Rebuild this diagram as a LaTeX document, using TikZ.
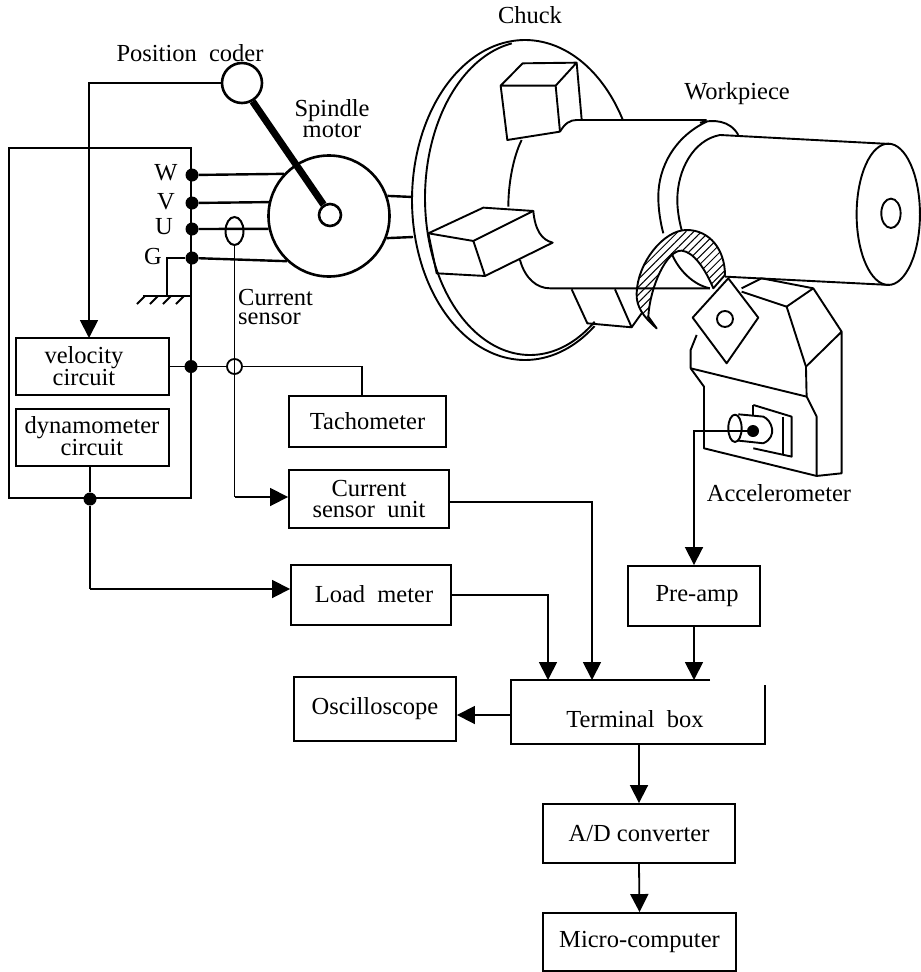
\documentclass[tikz,border=0pt]{standalone}
\usepackage{fontspec}
\setmainfont{Liberation Serif}
\usetikzlibrary{arrows.meta,shapes.geometric,patterns.meta}
\tikzset{
  lbl/.style={inner sep=0pt,align=center,font=\fontsize{24.5}{21}\selectfont},
  bx/.style={draw,line width=1.9pt,inner sep=0pt,align=center,font=\fontsize{24.5}{21}\selectfont},
  wire/.style={line width=1.8pt},
  power/.style={line width=2.4pt},
  arr/.style={line width=1.8pt,-{Triangle[width=18pt,length=18pt]}},
  jn/.style={circle,fill=black,inner sep=0pt,minimum size=13pt},
  art/.style={line width=1.9pt,line join=round},
  zone/.style={shift={(400,20)},x=.3333pt,y=-.3333pt}
}
\begin{document}
\begin{tikzpicture}[x=1pt,y=-1pt]
\useasboundingbox (0,0) rectangle (921,972);
% --- Chuck disc ---
\draw[art] plot[domain=30:308,samples=90,smooth] ({525+113*cos(\x)},{200-160*sin(\x)});
\draw[art] plot[domain=100:308,samples=70,smooth] ({530+105*cos(\x)},{198-157*sin(\x)});
\begin{scope}[zone,art]
  % body
  \draw (480,335) .. controls (495,310) and (510,300) .. (530,300) -- (920,300);
  \draw (365,360) .. controls (340,410) and (325,490) .. (325,560);
  \draw (360,720) .. controls (375,775) and (410,805) .. (450,805) -- (930,805);
  % collar
  \draw (920,305) .. controls (825,350) and (775,440) .. (775,530) .. controls (775,570) and (782,610) .. (790,640);
  \draw (960,345) .. controls (880,360) and (832,450) .. (832,540) .. controls (832,570) and (838,605) .. (845,630);
  \draw (815,700) .. controls (835,750) and (880,795) .. (930,805);
  \draw (900,308) .. controls (940,298) and (990,300) .. (1015,345);
  % workpiece
  \draw (960,345) -- (1470,372);
  \draw (975,770) -- (1470,795);
  \draw (1465,583) ellipse [x radius=95,y radius=212];
  \draw (1473,580) ellipse [x radius=29,y radius=44];
  % top jaw
  \draw (302,197) -- (368,130) -- (530,128) -- (467,197) -- cycle;
  \draw (302,197) -- (322,360) -- (480,335) -- (467,197);
  \draw (530,128) -- (545,298);
  % left jaw
  \draw (85,640) -- (250,563) -- (400,573) -- (220,663) -- cycle;
  \draw (85,640) -- (110,760) -- (255,768) -- (220,663);
  \draw (255,768) -- (458,668) .. controls (425,660) and (405,630) .. (400,573);
  % bottom jaw
  \draw (515,808) -- (562,910) -- (695,922) -- (645,808);
  \draw (695,922) -- (725,880);
  % chip
  \path[fill=white,draw=black,pattern={Lines[angle=45,distance=5.5pt,line width=1pt]}]
    (770,925) .. controls (730,890) and (708,860) .. (710,820)
    .. controls (712,730) and (790,630) .. (860,630)
    .. controls (930,630) and (975,690) .. (975,765)
    -- (940,805)
    .. controls (915,745) and (880,695) .. (845,692)
    .. controls (800,690) and (750,800) .. (745,890) -- cycle;
  % tool holder
  \draw (1025,805) -- (1085,775) -- (1240,805) -- (1325,935) -- (1325,1360) -- (1250,1368) -- (1250,1190) -- (1220,1130) -- (1218,1040) -- (1325,935);
  \draw (1240,805) -- (1160,860) -- (1218,1040);
  \draw (1025,815) -- (1160,860);
  \draw (890,945) -- (872,990) -- (872,1045) -- (1220,1130);
  \draw (872,1045) -- (912,1100) -- (912,1285) -- (1250,1368);
  % insert
  \draw[fill=white] (985,775) -- (1075,893) -- (980,1030) -- (878,893) -- cycle;
  \draw (975,897) circle [x radius=24,y radius=24];
  % accelerometer
  \draw (1060,1155) -- (1175,1190) -- (1175,1310) -- (1060,1285);
  \draw (1060,1155) -- (1060,1185);
  \draw (1150,1190) -- (1150,1305);
  \draw (1015,1183) -- (1090,1190) .. controls (1115,1200) and (1135,1250) .. (1090,1270) -- (1015,1262);
  \draw (1005,1225) ellipse [x radius=20,y radius=41];
\end{scope}
% --- Motor and position coder ---
\node[draw,circle,line width=2.6pt,minimum size=121pt,inner sep=0pt] (motor) at (329,216) {};
\node[draw,circle,line width=2.6pt,minimum size=40pt,inner sep=0pt] (coder) at (242,83) {};
\node[draw,circle,line width=2.6pt,minimum size=22pt,inner sep=0pt] (rotor) at (330,215) {};
\draw[line width=7pt] (coder.-60) -- (rotor.122);
\coordinate (chuckA) at (413,197);
\coordinate (chuckB) at (413,237);
\draw[power] (motor.19) -- (chuckA);
\draw[power] (motor.-21) -- (chuckB);
% --- Boxes ---
\node[draw,line width=1.9pt,minimum width=182pt,minimum height=350pt,inner sep=0pt] (cabinet) at (100,323) {};
\node[bx,minimum width=153pt,minimum height=57pt] (vel) at (92.5,366.5) {};
\node[lbl] (veltext) at (84,366) {velocity\\circuit};
\node[bx,minimum width=153pt,minimum height=57pt] (dyn) at (92.5,437.5) {};
\node[lbl,font=\fontsize{24.5}{18}\selectfont] (dyntext) at (92,436) {dynamometer\\[-1pt]circuit};
\node[bx,minimum width=157pt,minimum height=51pt] (tacho) at (367.5,421.5) {Tachometer};
\node[bx,minimum width=160pt,minimum height=58pt] (csu) at (369,499) {Current\\sensor\ \ unit};
\node[bx,minimum width=160pt,minimum height=60pt] (load) at (371,595) {\raisebox{2.5pt}{\hspace{6pt}Load\ \ meter}};
\node[bx,minimum width=162pt,minimum height=64pt] (osc) at (375,709) {\raisebox{1pt}{Oscilloscope}};
\node[bx,minimum width=132pt,minimum height=60pt] (preamp) at (694,596) {\raisebox{1pt}{\hspace{6pt}Pre-amp}};
\node[bx,minimum width=192pt,minimum height=59pt] (adc) at (639,833.5) {A/D converter};
\node[bx,minimum width=193pt,minimum height=58pt] (micro) at (639.5,942) {Micro-computer};
\node[lbl] (term) at (635,719) {Terminal\ \ box};
% Terminal box: open corner at top right
\coordinate (termNW) at (511,680);
\coordinate (termNE) at (710,680);
\coordinate (termSW) at (511,744);
\coordinate (termSE) at (765,744);
\coordinate (termRT) at (765,685);
\draw[line width=2pt] (termNE) -- (termNW) -- (termSW) -- (termSE) -- (termRT);
% --- Labels ---
\node[lbl] (lchuck) at (530,15) {Chuck};
\node[lbl] (lwork) at (737,94) {Workpiece};
\node[lbl] (lpos) at (190,53) {Position\ \ coder};
\node[lbl] (lspin) at (332,119) {Spindle\\motor};
\node[lbl] (lw) at (166,173) {W};
\node[lbl] (lv) at (166,202) {V};
\node[lbl] (lu) at (164,227) {U};
\node[lbl] (lg) at (153,257) {G};
\node[lbl,align=left,anchor=west,font=\fontsize{24.5}{19}\selectfont] (lcur) at (238,307) {Current\\sensor};
\node[lbl] (lacc) at (779,493) {Accelerometer};
% --- Power junctions ---
\node[jn] (jw) at (192,175) {};
\node[jn] (jv) at (192,203) {};
\node[jn] (ju) at (192,229) {};
\node[jn] (jg) at (192,258) {};
\node[jn] (jvel) at (191,366.5) {};
\node[jn] (jdyn) at (90,499) {};
\draw[power] (jw) -- (motor.137);
\draw[power] (jv) -- (motor.167.5);
\draw[power] (ju) -- (motor.192.5);
\draw[power] (jg) -- (motor.227);
% current sensor
\node[draw,ellipse,line width=2pt,minimum width=18pt,minimum height=28pt,inner sep=0pt] (csens) at (234.5,231) {};
% ground
\coordinate (gndA) at (167,296);
\coordinate (gndL) at (143,296);
\coordinate (gndR) at (191,296);
\draw[power] (jg) -| (gndA);
\draw[wire] (gndL) -- (gndR);
\foreach \gx in {145,158,171,184}{
  \draw[wire] (\gx,296) -- +(-8,8);
}
% --- Signal wires ---
\coordinate (velin) at (89,338);
\draw[arr] (coder.west) -| (velin);
\node[draw,circle,line width=1.8pt,minimum size=15pt,inner sep=0pt] (ring) at (234.5,366.5) {};
\draw[wire] (vel.east) -- (ring.west);
\coordinate (tachotop) at (362,396);
\draw[wire] (ring.east) -| (tachotop);
\coordinate (csubend) at (234.5,497);
\draw[wire] (csens.south) -- (csubend);
\draw[arr] (csubend) -- (csu.west |- csubend);
\draw[wire] (dyn.south -| jdyn) -- (jdyn);
\coordinate (loadbend) at (90,589);
\draw[wire] (jdyn) -- (loadbend);
\draw[arr] (loadbend) -- (load.west |- loadbend);
\coordinate (termA) at (548,680);
\coordinate (termB) at (592,680);
\coordinate (termC) at (694,680);
\coordinate (termD) at (639,744);
\coordinate (termE) at (511,715);
\draw[arr] (load.east) -| (termA);
\draw[arr] ([yshift=-3pt]csu.east) -| (termB);
\draw[arr] (preamp.south) -- (termC);
\draw[arr] (termE) -- (osc.east |- termE);
\draw[arr] (termD) -- (adc.north);
\draw[arr] (adc.south) -- (micro.north);
% accelerometer signal
\node[jn,minimum size=12pt] (adot) at (753,431) {};
\draw[arr] (adot) -| (preamp.north);
\end{tikzpicture}
\end{document}
